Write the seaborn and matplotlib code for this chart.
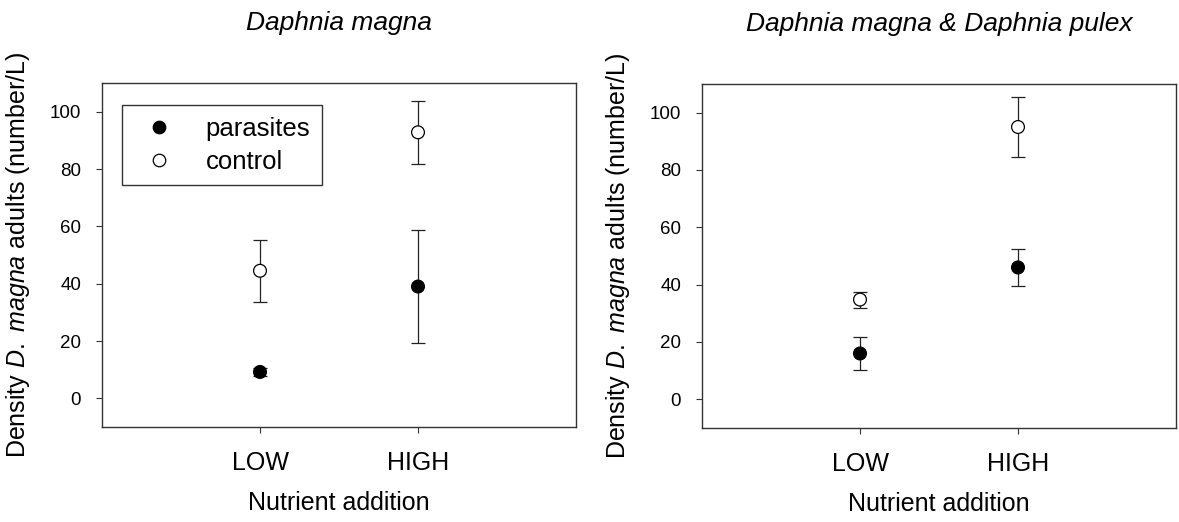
import matplotlib
matplotlib.use("Agg")
import matplotlib.pyplot as plt
from matplotlib.lines import Line2D
import seaborn as sns
import pandas as pd

sns.set_style("ticks")
plt.rcParams["font.family"] = ["Liberation Sans", "DejaVu Sans"]
plt.rcParams["mathtext.fontset"] = "custom"
plt.rcParams["mathtext.rm"] = "Liberation Sans"
plt.rcParams["mathtext.it"] = "Liberation Sans:italic"
for key in ["text.color", "axes.labelcolor", "xtick.labelcolor", "ytick.labelcolor"]:
    plt.rcParams[key] = "black"

# data: means and standard errors
levels = ["LOW", "HIGH"]
treatments = ["parasites", "control"]

magna_parasites = [9.2, 39.0]
magna_parasites_se = [1.5, 19.7]
magna_control = [44.5, 92.8]
magna_control_se = [10.8, 11.0]

mixed_parasites = [16.0, 46.0]
mixed_parasites_se = [5.6, 6.4]
mixed_control = [34.8, 95.0]
mixed_control_se = [2.8, 10.3]

panels = [
    ("Daphnia magna", magna_parasites, magna_parasites_se, magna_control, magna_control_se),
    ("Daphnia magna & Daphnia pulex", mixed_parasites, mixed_parasites_se, mixed_control, mixed_control_se),
]

face = {"parasites": "black", "control": "white"}

fig = plt.figure(figsize=(11.79, 5.22), dpi=100)
axes = [
    fig.add_axes([102 / 1179, 95 / 522, 474 / 1179, 344 / 522]),
    fig.add_axes([702 / 1179, 94 / 522, 474 / 1179, 344 / 522]),
]

for i, (ax, (title, par, par_se, con, con_se)) in enumerate(zip(axes, panels)):
    df = pd.DataFrame({
        "level": levels * 2,
        "treatment": ["parasites"] * 2 + ["control"] * 2,
        "density": par + con,
        "se": par_se + con_se,
    })
    df["pos"] = df["level"].map({lv: k + 1 for k, lv in enumerate(levels)})

    ax.errorbar(df["pos"], df["density"], yerr=df["se"], fmt="none",
                ecolor="#222222", elinewidth=0.9, capsize=5, capthick=0.9, zorder=2)
    sns.scatterplot(data=df, x="pos", y="density", hue="treatment", palette=face,
                    s=85, edgecolor="black", linewidth=0.9, legend=False,
                    ax=ax, zorder=3)

    ax.set_xlim(0, 3)
    ax.set_ylim(-10, 110)
    ax.set_xticks([1, 2])
    ax.set_xticklabels(levels, fontsize=18)
    ax.set_yticks(range(0, 101, 20))
    ax.tick_params(axis="y", labelsize=13.5, length=4, pad=11, color="#333333")
    ax.tick_params(axis="x", length=4, pad=13, color="#333333")
    for sp in ax.spines.values():
        sp.set_color("#333333")
        sp.set_linewidth(1.0)

    ax.set_xlabel("Nutrient addition", fontsize=18, labelpad=12)
    ax.set_ylabel("Density $\\it{D.}$ $\\it{magna}$ adults (number/L)", fontsize=18, labelpad=13)
    ax.set_title(title, fontsize=19, style="italic", pad=38)

handles = [
    Line2D([], [], linestyle="none", marker="o", markersize=9,
           markerfacecolor=face[t], markeredgecolor="black", markeredgewidth=0.9)
    for t in treatments
]
leg = axes[0].legend(handles, treatments, loc="upper left",
                     bbox_to_anchor=(0.042, 0.936), fontsize=18.5, frameon=True,
                     fancybox=False, borderpad=0.45, handlelength=2.0,
                     handletextpad=0.8, labelspacing=0.35, borderaxespad=0)
leg.get_frame().set_edgecolor("black")
leg.get_frame().set_linewidth(1.0)

fig.savefig("out.png", dpi=100)
